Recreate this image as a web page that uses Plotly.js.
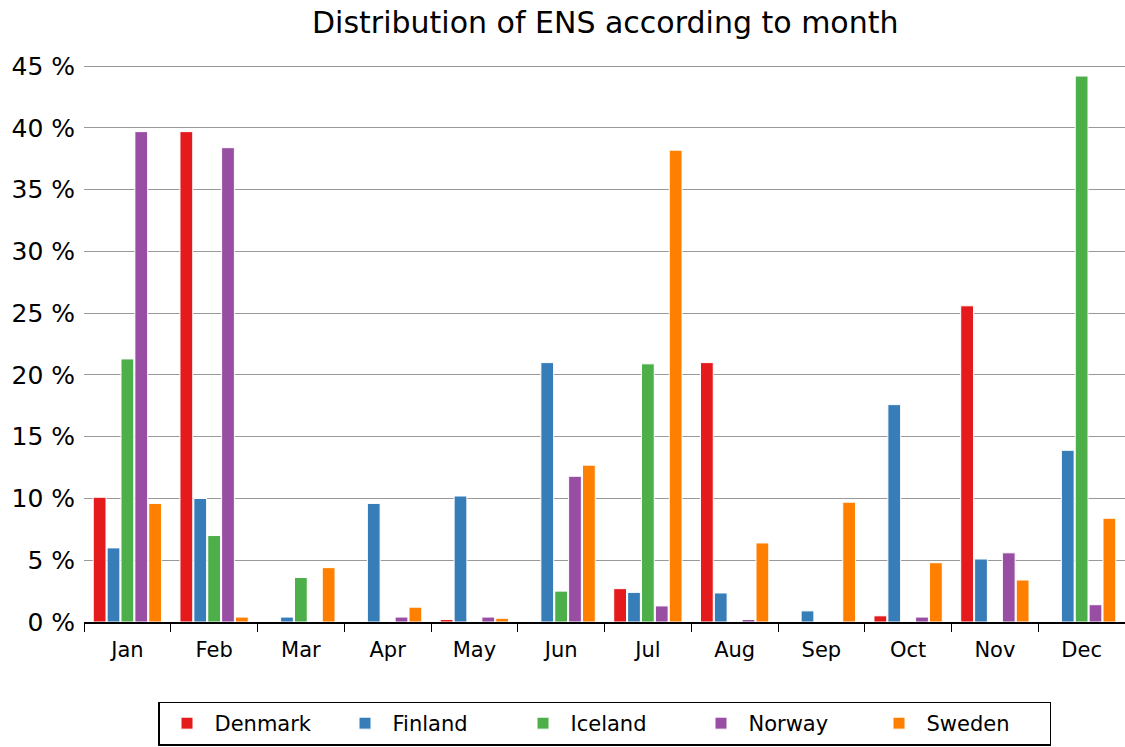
<!DOCTYPE html>
<html>
<head>
<meta charset="utf-8">
<script src="https://cdn.plot.ly/plotly-3.0.1.min.js"></script>
<style>html,body{margin:0;padding:0;background:#fff}#chart{width:1125px;height:747px}</style>
</head>
<body>
<div id="chart"></div>
<script>
const months = ["Jan","Feb","Mar","Apr","May","Jun","Jul","Aug","Sep","Oct","Nov","Dec"];
const denmark = [10.1, 39.7, 0, 0, 0.2, 0, 2.7, 21.0, 0, 0.5, 25.6, 0];
const finland = [6.0, 10.0, 0.4, 9.6, 10.2, 21.0, 2.4, 2.35, 0.9, 17.6, 5.1, 13.9];
const iceland = [21.3, 7.0, 3.6, 0, 0, 2.5, 20.9, 0, 0, 0, 0, 44.2];
const norway = [39.7, 38.4, 0, 0.4, 0.4, 11.8, 1.3, 0.2, 0, 0.4, 5.6, 1.4];
const sweden = [9.6, 0.4, 4.4, 1.2, 0.3, 12.7, 38.2, 6.4, 9.7, 4.8, 3.4, 8.4];
const seriesNames = ["Denmark","Finland","Iceland","Norway","Sweden"];
const seriesData = [denmark, finland, iceland, norway, sweden];
const colors = ["#e41a1c","#377eb8","#4daf4a","#984ea3","#ff7f00"];

const traces = seriesNames.map((n, i) => ({
  type: "bar", name: n, x: months, y: seriesData[i],
  marker: {color: colors[i], line: {color: "#ffffff", width: 1}},
  hoverinfo: "x+y+name"
}));

const layout = {
  width: 1125, height: 747,
  margin: {l: 84, r: 0, t: 60, b: 125, autoexpand: false},
  paper_bgcolor: "#fff", plot_bgcolor: "#fff",
  font: {family: "DejaVu Sans", color: "#000"},
  title: {text: "Distribution of ENS according to month", font: {size: 30, family: "DejaVu Sans"}, x: 0.538, xanchor: "center", y: 0.97, yanchor: "middle"},
  barmode: "group", bargap: 0.2, bargroupgap: 0.08,
  xaxis: {
    tickson: "boundaries", ticks: "outside", ticklen: 8, tickcolor: "#000", tickwidth: 1,
    showline: true, linecolor: "#000", linewidth: 1.5,
    showgrid: false, tickfont: {size: 21}, ticklabelstandoff: 8,
    range: [-0.5, 11.5], automargin: false
  },
  yaxis: {
    range: [0, 45.5], dtick: 5, tick0: 0, ticksuffix: " %",
    showgrid: true, gridcolor: "#999", gridwidth: 1,
    zeroline: false, showline: false, ticks: "",
    tickfont: {size: 25}, ticklabelstandoff: 8, automargin: false
  },
  showlegend: true,
  legend: {
    orientation: "h", x: 0.5, xanchor: "center", yref: "container", y: 0.002, yanchor: "bottom",
    bordercolor: "#000", borderwidth: 1.5, font: {size: 21},
    itemwidth: 45, traceorder: "normal", entrywidth: 118
  }
};

Plotly.newPlot("chart", traces, layout, {displayModeBar: false, staticPlot: true});
</script>
</body>
</html>
